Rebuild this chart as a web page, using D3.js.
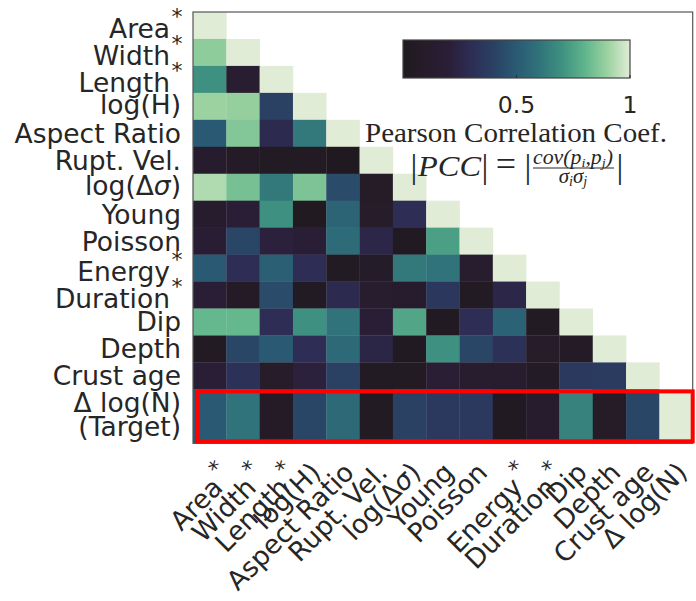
<!DOCTYPE html>
<html>
<head>
<meta charset="utf-8">
<script src="https://cdn.jsdelivr.net/npm/d3@7"></script>
<style>
  body { margin: 0; background: #fff; }
  svg { display: block; }
  .lab { font-family: "DejaVu Sans", sans-serif; fill: #262626; }
  .tex { font-family: "Liberation Serif", "DejaVu Serif", serif; fill: #262626; }
</style>
</head>
<body>
<svg width="696" height="601"></svg>
<script>
// Feature names (row i / column i), * marks the starred ones.
var labels = ["Area", "Width", "Length", "log(H)", "Aspect Ratio", "Rupt. Vel.", "log(\u0394\u03c3)",
  "Young", "Poisson", "Energy", "Duration", "Dip", "Depth", "Crust age", "\u0394 log(N)"];
var starred = ["Area", "Width", "Length", "Energy", "Duration"];

// |PCC| lower triangle, row by row (diagonal included).
var pcc = [
  [1],
  [0.88, 1],
  [0.70, 0.15, 1],
  [0.90, 0.89, 0.40, 1],
  [0.50, 0.86, 0.28, 0.62, 1],
  [0.12, 0.07, 0.04, 0.04, 0.00, 1],
  [0.93, 0.84, 0.62, 0.85, 0.44, 0.08, 1],
  [0.12, 0.20, 0.70, 0.01, 0.54, 0.10, 0.30, 1],
  [0.17, 0.42, 0.22, 0.19, 0.57, 0.26, 0.02, 0.74, 1],
  [0.50, 0.30, 0.52, 0.30, 0.03, 0.09, 0.62, 0.60, 0.13, 1],
  [0.20, 0.06, 0.44, 0.04, 0.28, 0.13, 0.12, 0.35, 0.04, 0.26, 1],
  [0.81, 0.81, 0.30, 0.70, 0.60, 0.20, 0.76, 0.02, 0.30, 0.53, 0.03, 1],
  [0.03, 0.42, 0.50, 0.30, 0.56, 0.25, 0.02, 0.70, 0.42, 0.32, 0.10, 0.07, 1],
  [0.20, 0.32, 0.10, 0.22, 0.40, 0.03, 0.03, 0.18, 0.14, 0.13, 0.05, 0.36, 0.37, 1],
  [0.50, 0.60, 0.07, 0.42, 0.56, 0.03, 0.40, 0.36, 0.36, 0.02, 0.12, 0.65, 0.08, 0.42, 1]
];

// colour ramp
var rampStops = [0, 0.1, 0.2, 0.3, 0.4, 0.5, 0.6, 0.7, 0.8, 0.9, 1];
var rampColors = ["#201a20", "#261c2a", "#2a1e37", "#2d2d55", "#2a4164", "#2a5a73",
  "#30737a", "#3e9180", "#5fb48c", "#9bd2a0", "#e0ecd6"];
var cbTicks = [0.5, 1];

var svg = d3.select("svg");
var n = labels.length;

var color = d3.scaleLinear().domain(rampStops).range(rampColors).interpolate(d3.interpolateRgb);

// the target row is drawn twice as tall (16 row units for 15 rows)
var x = d3.scaleLinear().domain([0, n]).range([193, 692.7]);
var y = d3.scaleLinear().domain([0, n + 1]).range([12, 443.3]);
function rowTop(i) { return y(i); }
function rowBot(i) { return i == n - 1 ? y(n + 1) : y(i + 1); }

var cells = [];
pcc.forEach(function(row, i) {
  row.forEach(function(v, j) { cells.push({i: i, j: j, v: v}); });
});

svg.append("g").selectAll("rect")
  .data(cells)
  .enter().append("rect")
    .attr("x", function(d) { return x(d.j); })
    .attr("y", function(d) { return rowTop(d.i); })
    .attr("width", x(1) - x(0) + 0.3)
    .attr("height", function(d) { return rowBot(d.i) - rowTop(d.i) + 0.3; })
    .attr("fill", function(d) { return color(d.v); });

// axes frame
svg.append("rect")
  .attr("x", x(0)).attr("y", y(0))
  .attr("width", x(n) - x(0)).attr("height", y(n + 1) - y(0))
  .attr("fill", "none").attr("stroke", "#555").attr("stroke-width", 1.2);

// red box round the target row
svg.append("rect")
  .attr("x", x(0) + 4).attr("y", rowTop(n - 1) + 2)
  .attr("width", x(n) - x(0) - 4).attr("height", rowBot(n - 1) - rowTop(n - 1) - 4)
  .attr("fill", "none").attr("stroke", "#ff0000").attr("stroke-width", 4);

function isStar(s) { return starred.indexOf(s) >= 0; }

// label text with a math-style sigma
function fillLabel(t, s) {
  if (s.indexOf("\u03c3") >= 0) {
    t.append("tspan").text("log(\u0394");
    t.append("tspan").attr("font-style", "italic").text("\u03c3");
    t.append("tspan").text(")");
  } else {
    t.text(s);
  }
}

// y labels
var ylab = svg.append("g").attr("class", "lab").attr("font-size", 26.5);
labels.forEach(function(s, i) {
  var cy = (rowTop(i) + rowBot(i)) / 2;
  if (i == n - 1) {
    ylab.append("text").attr("x", 181).attr("y", cy - 4).attr("text-anchor", "end").text(s);
    ylab.append("text").attr("x", 181).attr("y", cy + 20).attr("text-anchor", "end").text("(Target)");
    return;
  }
  var star = isStar(s);
  var off = star ? 13 : (s.indexOf("(") >= 0 ? 7.5 : 9.5);
  var t = ylab.append("text")
    .attr("x", star ? 170 : 181).attr("y", cy + off)
    .attr("text-anchor", "end");
  fillLabel(t, s);
  if (star) {
    ylab.append("text").attr("x", 177).attr("y", cy + off - 14)
      .attr("text-anchor", "middle").attr("font-size", 22).text("*");
  }
});

// x labels, rotated 45 degrees, ticks at the right edge of each column
var xlab = svg.append("g").attr("class", "lab").attr("font-size", 26.5);
labels.forEach(function(s, j) {
  var star = isStar(s);
  var g = xlab.append("g")
    .attr("transform", "translate(" + (x(j + 1) - (star ? 2 : 4)) + "," + (star ? 489 : 474) + ") rotate(-45)");
  var t = g.append("text").attr("text-anchor", "end");
  fillLabel(t, s);
  if (star) {
    g.append("text").attr("x", 9).attr("y", -13).attr("text-anchor", "middle")
      .attr("font-size", 22).text("*");
  }
});

// colorbar
var cb = d3.scaleLinear().domain([0, 1]).range([403, 630]);
var grad = svg.append("defs").append("linearGradient").attr("id", "cbgrad");
d3.range(0, 1.0001, 0.02).forEach(function(v) {
  grad.append("stop").attr("offset", v).attr("stop-color", color(v));
});
svg.append("rect")
  .attr("x", cb(0)).attr("y", 40).attr("width", cb(1) - cb(0)).attr("height", 38)
  .attr("fill", "url(#cbgrad)").attr("stroke", "#444").attr("stroke-width", 1.2);

svg.append("g").selectAll("line")
  .data(cbTicks)
  .enter().append("line")
    .attr("x1", function(d) { return cb(d); }).attr("x2", function(d) { return cb(d); })
    .attr("y1", 75).attr("y2", 78)
    .attr("stroke", "#333").attr("stroke-width", 1.2);

svg.append("g").attr("class", "lab").attr("font-size", 23.5)
  .selectAll("text")
  .data(cbTicks)
  .enter().append("text")
    .attr("x", function(d) { return cb(d); })
    .attr("y", 113)
    .attr("text-anchor", "middle")
    .text(function(d) { return d3.format("~g")(d); });

// colorbar caption and formula
var cap = svg.append("g").attr("class", "tex");
cap.append("text").attr("x", 516).attr("y", 142).attr("text-anchor", "middle")
  .attr("font-size", 27).attr("textLength", 302).attr("lengthAdjust", "spacingAndGlyphs")
  .text("Pearson Correlation Coef.");

cap.append("text").attr("x", 414).attr("y", 178).attr("text-anchor", "middle").attr("font-size", 34).text("|");
cap.append("text").attr("x", 418).attr("y", 176).attr("font-size", 30).attr("font-style", "italic")
  .attr("textLength", 63).attr("lengthAdjust", "spacingAndGlyphs").text("PCC");
cap.append("text").attr("x", 485).attr("y", 178).attr("text-anchor", "middle").attr("font-size", 34).text("|");
cap.append("text").attr("x", 506).attr("y", 176).attr("text-anchor", "middle").attr("font-size", 36).text("=");
cap.append("text").attr("x", 528).attr("y", 178).attr("text-anchor", "middle").attr("font-size", 34).text("|");
cap.append("text").attr("x", 620).attr("y", 178).attr("text-anchor", "middle").attr("font-size", 34).text("|");

var num = cap.append("text").attr("x", 533).attr("y", 164).attr("font-size", 20).attr("font-style", "italic")
  .attr("textLength", 80).attr("lengthAdjust", "spacingAndGlyphs");
num.append("tspan").text("cov(p");
num.append("tspan").attr("font-size", 13).attr("dy", 3).text("i");
num.append("tspan").attr("dy", -3).text(",p");
num.append("tspan").attr("font-size", 13).attr("dy", 3).text("j");
num.append("tspan").attr("dy", -3).text(")");

cap.append("line").attr("x1", 533).attr("x2", 614).attr("y1", 168).attr("y2", 168)
  .attr("stroke", "#262626").attr("stroke-width", 1);

var den = cap.append("text").attr("x", 573).attr("y", 183).attr("text-anchor", "middle")
  .attr("font-size", 21).attr("font-style", "italic");
den.append("tspan").text("\u03c3");
den.append("tspan").attr("font-size", 14).attr("dy", 3).text("i");
den.append("tspan").attr("dy", -3).text("\u03c3");
den.append("tspan").attr("font-size", 14).attr("dy", 3).text("j");
</script>
</body>
</html>
